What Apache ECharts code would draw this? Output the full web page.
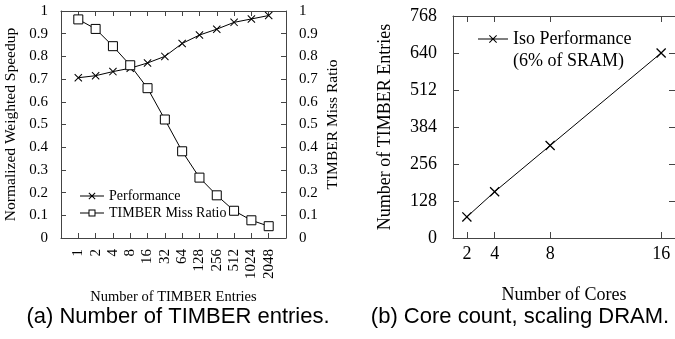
<!DOCTYPE html>
<html>
<head>
<meta charset="utf-8">
<script src="https://cdn.jsdelivr.net/npm/echarts@6/dist/echarts.min.js"></script>
<style>
  html, body { margin: 0; padding: 0; background: #fff; }
  #chart { width: 675px; height: 339px; }
</style>
</head>
<body>
<div id="chart"></div>
<script>
// (a) TIMBER entries sweep
const entryLabels = ['1', '2', '4', '8', '16', '32', '64', '128', '256', '512', '1024', '2048'];
const perfValues = [0.706, 0.715, 0.733, 0.748, 0.771, 0.80, 0.857, 0.894, 0.92, 0.95, 0.965, 0.98];
const missValues = [0.963, 0.921, 0.845, 0.761, 0.66, 0.522, 0.382, 0.266, 0.188, 0.12, 0.078, 0.052];

// (b) core count, iso performance
const coreCounts = [2, 4, 8, 16];
const isoEntries = [73, 160, 320, 640];
const entryTicks = [0, 128, 256, 384, 512, 640, 768];

const serif = 'Liberation Serif';
const axisColor = '#444';

// tiny zero-area triangles only stretch the icon's bounding box
const pin = (x, y) => `M${x} ${y} L${x + 0.01} ${y} L${x} ${y} Z `;

const crossPath = 'path://M0 0.9 L0.9 0 L10 9.1 L9.1 10 Z M9.1 0 L10 0.9 L0.9 10 L0 9.1 Z';
const smallCrossIcon = 'path://' + pin(0, 0) + pin(24, 8) +
  'M0 3.5 L24 3.5 L24 4.5 L0 4.5 Z ' +
  'M8.5 1.2 L9.2 0.5 L15.5 6.8 L14.8 7.5 Z M14.8 0.5 L15.5 1.2 L9.2 7.5 L8.5 6.8 Z';
const smallSquareIcon = 'path://' + pin(0, 0) + pin(24, 8) +
  'M0 3.5 L8.5 3.5 L8.5 4.5 L0 4.5 Z M15.5 3.5 L24 3.5 L24 4.5 L15.5 4.5 Z ' +
  'M8.5 0.5 L15.5 0.5 L15.5 7.5 L8.5 7.5 Z M9.5 1.5 L9.5 6.5 L14.5 6.5 L14.5 1.5 Z';
// line + cross drawn at the top, box extended down so it sits on the first text line
const isoIcon = 'path://' + pin(0, 0) + pin(30, 32) +
  'M0 4.5 L30 4.5 L30 5.5 L0 5.5 Z ' +
  'M11 1.7 L11.7 1 L19 8.3 L18.3 9 Z M18.3 1 L19 1.7 L11.7 9 L11 8.3 Z';

const fmtRatio = (v) => (v === 0 || v === 1 ? String(v) : v.toFixed(1));

function frameAxis(extra) {
  return Object.assign({
    axisLine: { show: true, onZero: false, lineStyle: { color: axisColor, width: 1 } },
    axisTick: { show: true, inside: true, length: 5, lineStyle: { color: axisColor } },
    splitLine: { show: false },
    axisLabel: { show: false },
  }, extra);
}

const chart = echarts.init(document.getElementById('chart'), null, { renderer: 'canvas' });

const captionStyle = { fontFamily: 'Liberation Sans', fontSize: 22, fontWeight: 'normal', color: '#000' };

const option = {
  animation: false,
  backgroundColor: '#fff',
  textStyle: { fontFamily: serif, color: '#000' },
  title: [
    { text: '(a) Number of TIMBER entries.', left: 173, top: 301, textAlign: 'center', textStyle: captionStyle },
    { text: '(b) Core count, scaling DRAM.', left: 515, top: 301, textAlign: 'center', textStyle: captionStyle },
  ],
  legend: [
    {
      orient: 'vertical',
      left: 75, top: 184,
      itemWidth: 24, itemHeight: 8, itemGap: 3,
      textStyle: { fontFamily: serif, fontSize: 14, color: '#000' },
      data: [
        { name: 'Performance', icon: smallCrossIcon, itemStyle: { color: '#000', borderWidth: 0 } },
        { name: 'TIMBER Miss Ratio', icon: smallSquareIcon, itemStyle: { color: '#000', borderWidth: 0 } },
      ],
    },
    {
      left: 473, top: 23,
      itemWidth: 30, itemHeight: 32,
      textStyle: { fontFamily: serif, fontSize: 18, lineHeight: 22, color: '#000' },
      data: [
        { name: 'Iso Performance\n(6% of SRAM)', icon: isoIcon, itemStyle: { color: '#000', borderWidth: 0 } },
      ],
    },
  ],
  grid: [
    { left: 61, top: 11, width: 225, height: 227 },
    { left: 453, top: 16, width: 223, height: 222 },
  ],
  xAxis: [
    frameAxis({
      type: 'value', gridIndex: 0, position: 'bottom', min: 0, max: 13, interval: 1,
      name: 'Number of TIMBER Entries', nameLocation: 'middle', nameGap: 52,
      nameTextStyle: { fontFamily: serif, fontSize: 14.5, color: '#000' },
      axisLabel: {
        show: true, rotate: 90, margin: 11, fontFamily: serif, fontSize: 15, color: '#000',
        formatter: (v) => entryLabels[v - 1] || '',
      },
    }),
    frameAxis({ type: 'value', gridIndex: 0, position: 'top', min: 0, max: 13, interval: 1 }),
    frameAxis({
      type: 'value', gridIndex: 1, position: 'bottom', min: 1, max: 17,
      name: 'Number of Cores', nameLocation: 'middle', nameGap: 48,
      nameTextStyle: { fontFamily: serif, fontSize: 18, color: '#000' },
      axisTick: { show: true, inside: true, length: 6, customValues: coreCounts, lineStyle: { color: axisColor } },
      axisLabel: { show: true, margin: 7, fontFamily: serif, fontSize: 18, color: '#000', customValues: coreCounts },
    }),
    frameAxis({
      type: 'value', gridIndex: 1, position: 'top', min: 1, max: 17,
      axisTick: { show: true, inside: true, length: 6, customValues: coreCounts, lineStyle: { color: axisColor } },
    }),
  ],
  yAxis: [
    frameAxis({
      type: 'value', gridIndex: 0, position: 'left', min: 0, max: 1, interval: 0.1,
      name: 'Normalized Weighted Speedup', nameLocation: 'middle', nameGap: 42, nameRotate: 90,
      nameTextStyle: { fontFamily: serif, fontSize: 15.5, color: '#000' },
      axisLabel: { show: true, margin: 13, fontFamily: serif, fontSize: 15, color: '#000', formatter: fmtRatio },
    }),
    frameAxis({
      type: 'value', gridIndex: 0, position: 'right', min: 0, max: 1, interval: 0.1,
      name: 'TIMBER Miss Ratio', nameLocation: 'middle', nameGap: 39, nameRotate: 90,
      nameTextStyle: { fontFamily: serif, fontSize: 15.5, color: '#000' },
      axisLabel: { show: true, margin: 13, fontFamily: serif, fontSize: 15, color: '#000', formatter: fmtRatio },
    }),
    frameAxis({
      type: 'value', gridIndex: 1, position: 'left', min: 0, max: 768, interval: 128,
      name: 'Number of TIMBER Entries', nameLocation: 'middle', nameGap: 59, nameRotate: 90,
      nameTextStyle: { fontFamily: serif, fontSize: 18, color: '#000' },
      axisTick: { show: true, inside: true, length: 6, lineStyle: { color: axisColor } },
      axisLabel: {
        show: true, margin: 16, fontFamily: serif, fontSize: 18, color: '#000',
        formatter: (v) => (entryTicks.includes(v) ? String(v) : ''),
      },
    }),
    frameAxis({
      type: 'value', gridIndex: 1, position: 'right', min: 0, max: 768, interval: 128,
      axisTick: { show: true, inside: true, length: 6, lineStyle: { color: axisColor } },
    }),
  ],
  series: [
    {
      name: 'Performance', type: 'line', xAxisIndex: 0, yAxisIndex: 0,
      data: perfValues.map((v, i) => [i + 1, v]),
      symbol: crossPath, symbolSize: 8,
      lineStyle: { color: '#000', width: 1 },
      itemStyle: { color: '#000' },
    },
    {
      name: 'TIMBER Miss Ratio', type: 'line', xAxisIndex: 0, yAxisIndex: 1,
      data: missValues.map((v, i) => [i + 1, v]),
      symbol: 'rect', symbolSize: 9,
      lineStyle: { color: '#000', width: 1 },
      itemStyle: { color: '#fff', borderColor: '#000', borderWidth: 1 },
    },
    {
      name: 'Iso Performance\n(6% of SRAM)', type: 'line', xAxisIndex: 2, yAxisIndex: 2,
      data: coreCounts.map((c, i) => [c, isoEntries[i]]),
      symbol: crossPath, symbolSize: 10,
      lineStyle: { color: '#000', width: 1 },
      itemStyle: { color: '#000' },
    },
  ],
};

chart.setOption(option);
</script>
</body>
</html>
